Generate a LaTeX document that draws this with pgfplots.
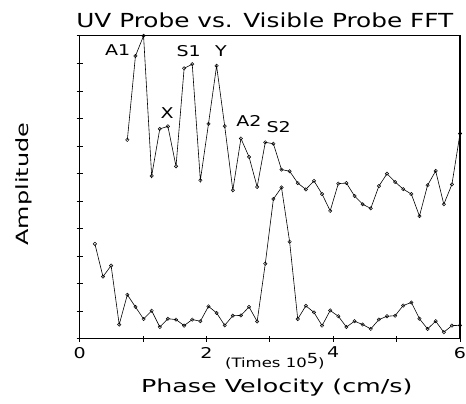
\documentclass[border=0pt]{standalone}
\usepackage{pgfplots}
\pgfplotsset{compat=1.18}
\usepackage{fontspec}
\setmainfont{DejaVu Sans}[FakeStretch=1.28]
\newfontfamily\widefont{DejaVu Sans}[FakeStretch=1.42]
\begin{document}
\begin{tikzpicture}
\begin{axis}[
  scale only axis,
  width=382bp, height=304bp,
  xmin=0, xmax=6, ymin=0, ymax=11,
  xtick={0,1,2,3,4,5,6},
  xticklabels={0,,2,,4,,6},
  ytick={0,1,2,3,4,5,6,7,8,9,10,11},
  yticklabels={},
  xtick pos=left, ytick pos=left,
  tick align=center,
  major tick length=6bp,
  tick style={black, line width=0.7pt},
  axis line style={black, line width=1.3pt},
  x tick label style={font=\fontsize{15}{16}\selectfont, yshift=-2bp},
  /pgf/number format/assume math mode=true,
  clip=false,
]
\addplot[black, line width=0.6pt, mark=o, mark size=1.7pt, mark options={solid, line width=0.5pt}] coordinates {
(0.752,7.22) (0.880,10.27) (1.008,11.00) (1.136,5.91) (1.264,7.62)
(1.392,7.71) (1.520,6.26) (1.648,9.82) (1.776,9.97) (1.904,5.75)
(2.032,7.80) (2.160,9.91) (2.288,7.72) (2.416,5.39) (2.544,7.27)
(2.672,6.60) (2.800,5.51) (2.928,7.13) (3.056,7.08) (3.184,6.14)
(3.312,6.08) (3.440,5.65) (3.568,5.42) (3.696,5.73) (3.824,5.25)
(3.952,4.64) (4.080,5.63) (4.208,5.65) (4.336,5.18) (4.464,4.88)
(4.592,4.73) (4.720,5.54) (4.848,5.99) (4.976,5.69) (5.104,5.43)
(5.232,5.25) (5.360,4.45) (5.488,5.57) (5.616,6.09) (5.744,4.88)
(5.872,5.60) (6.000,7.45)
};
\addplot[black, line width=0.6pt, mark=o, mark size=1.7pt, mark options={solid, line width=0.5pt}] coordinates {
(0.240,3.44) (0.368,2.25) (0.496,2.65) (0.624,0.51) (0.752,1.59)
(0.880,1.15) (1.008,0.71) (1.136,1.01) (1.264,0.42) (1.392,0.72)
(1.520,0.69) (1.648,0.47) (1.776,0.69) (1.904,0.63) (2.032,1.17)
(2.160,0.93) (2.288,0.48) (2.416,0.83) (2.544,0.84) (2.672,1.15)
(2.800,0.62) (2.928,2.72) (3.056,5.07) (3.184,5.49) (3.312,3.52)
(3.440,0.71) (3.568,1.19) (3.696,0.95) (3.824,0.47) (3.952,1.02)
(4.080,0.81) (4.208,0.42) (4.336,0.63) (4.464,0.51) (4.592,0.35)
(4.720,0.69) (4.848,0.81) (4.976,0.83) (5.104,1.20) (5.232,1.31)
(5.360,0.72) (5.488,0.35) (5.616,0.63) (5.744,0.23) (5.872,0.47)
(6.000,0.48)
};
\begin{scope}[every node/.style={font=\fontsize{15}{16}\selectfont, inner sep=0pt}]
\node at (axis cs:0.60,10.49) {A1};
\node at (axis cs:1.38,8.18) {X};
\node at (axis cs:1.72,10.46) {S1};
\node at (axis cs:2.23,10.46) {Y};
\node at (axis cs:2.67,7.89) {A2};
\node at (axis cs:3.14,7.67) {S2};
\end{scope}
\end{axis}
\node[font=\fontsize{19.5}{22}\selectfont, inner sep=0pt] at (186bp,320bp) {UV Probe vs. Visible Probe FFT};
\node[font=\fontsize{13}{14}\selectfont, inner sep=0pt] at (196bp,-23bp) {(Times 10\raisebox{0.6ex}{\fontsize{14}{15}\selectfont 5})};
\node[font=\widefont\fontsize{18}{21}\selectfont, inner sep=0pt] at (198bp,-49bp) {Phase Velocity (cm/s)};
\node[font=\widefont\fontsize{17}{20}\selectfont, inner sep=0pt, rotate=90] at (-56bp,155bp) {Amplitude};
\pgfresetboundingbox
\useasboundingbox (-80bp,-65bp) rectangle (388bp,340bp);
\end{tikzpicture}
\end{document}
